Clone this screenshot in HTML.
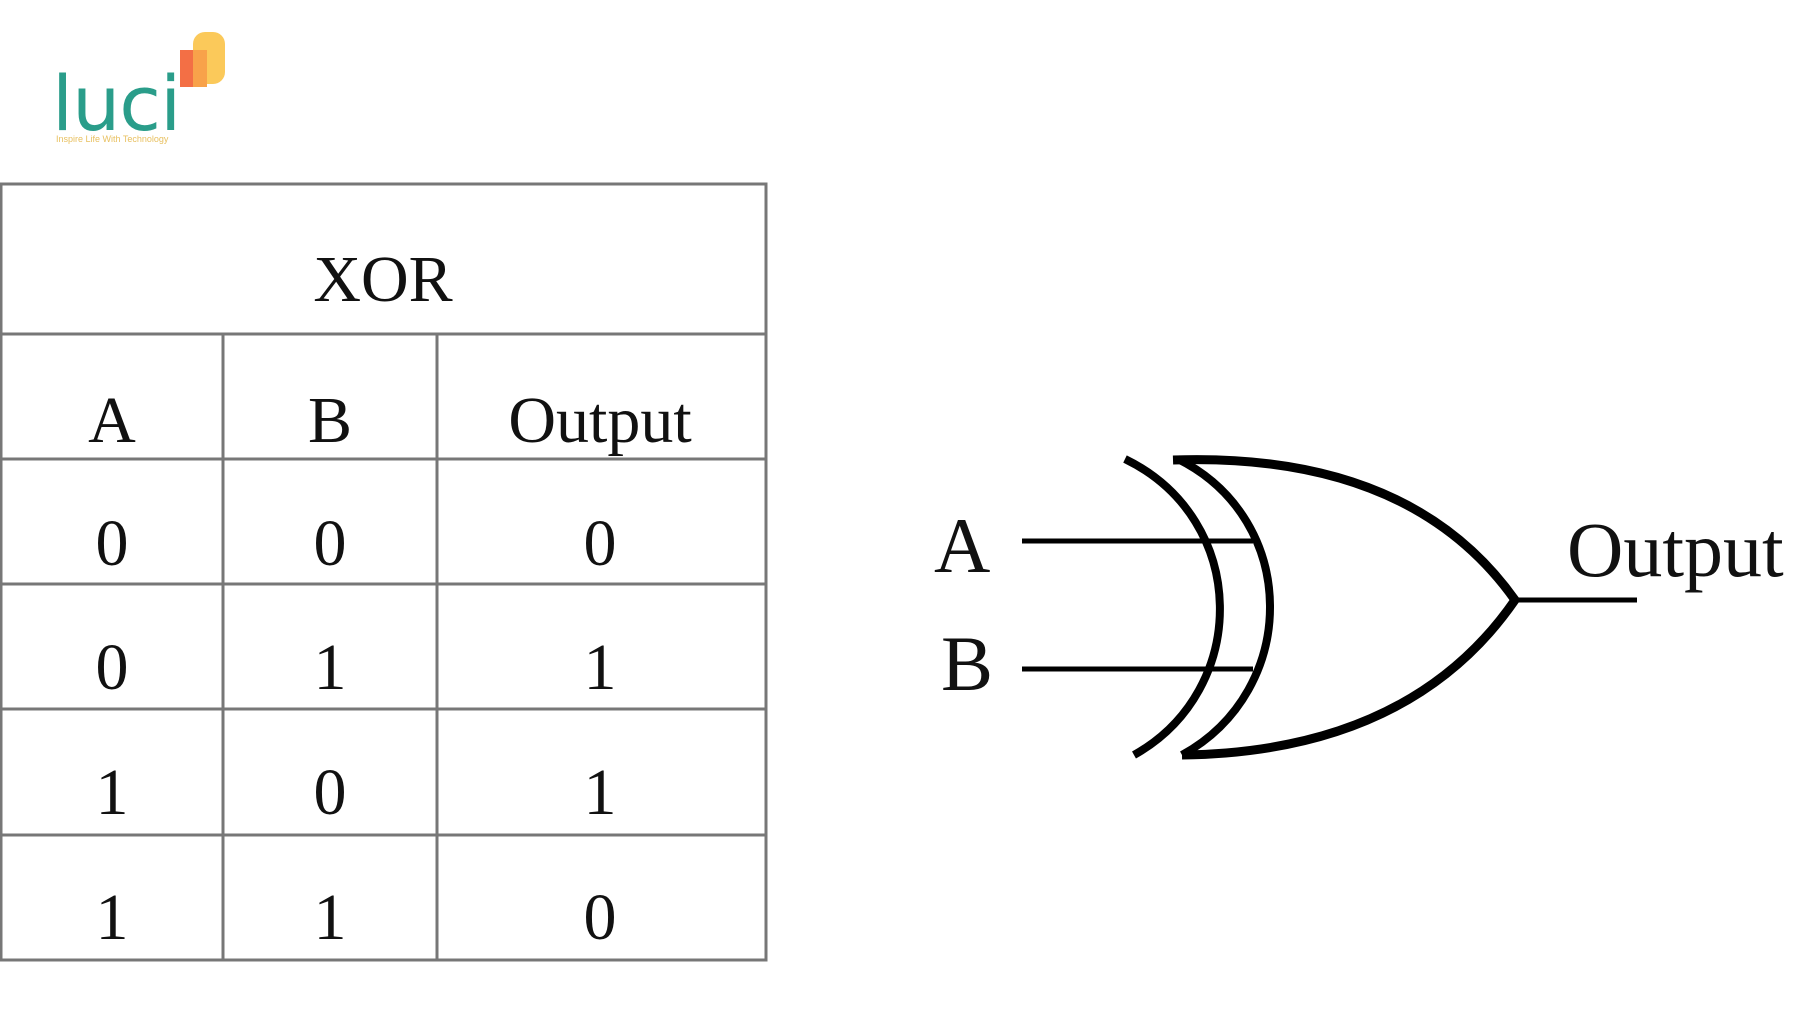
<!DOCTYPE html>
<html><head><meta charset="utf-8"><style>
body{margin:0;background:#fff;width:1800px;height:1013px;overflow:hidden;position:relative;font-family:"Liberation Serif",serif}
svg{position:absolute;left:0;top:0}
</style></head><body>
<svg width="1800" height="1013" viewBox="0 0 1800 1013">
<!-- logo -->
<rect x="193" y="32" width="32" height="52" rx="12" fill="#fbc95a"/>
<rect x="180" y="50" width="27" height="37" fill="#f36f45"/>
<rect x="193" y="50" width="14" height="37" fill="#f8a24a"/>
<text x="52" y="130" font-family="DejaVu Sans,sans-serif" font-size="76" fill="#2a9d8a" letter-spacing="-1">luci</text>
<text x="56" y="142" font-family="Liberation Sans,sans-serif" font-size="9" fill="#e8c060">Inspire Life With Technology</text>
<!-- table -->
<g stroke="#777" stroke-width="3" fill="none">
<rect x="1" y="184" width="765" height="776"/>
<line x1="0" y1="334" x2="766" y2="334"/>
<line x1="0" y1="459" x2="766" y2="459"/>
<line x1="0" y1="584" x2="766" y2="584"/>
<line x1="0" y1="709" x2="766" y2="709"/>
<line x1="0" y1="835" x2="766" y2="835"/>
<line x1="223" y1="334" x2="223" y2="960"/>
<line x1="437" y1="334" x2="437" y2="960"/>
</g>
<g font-size="66" fill="#111" text-anchor="middle">
<text x="383" y="301">XOR</text>
<text x="112" y="442">A</text><text x="330" y="442">B</text><text x="600" y="442">Output</text>
<text x="112" y="565">0</text><text x="330" y="565">0</text><text x="600" y="565">0</text>
<text x="112" y="689">0</text><text x="330" y="689">1</text><text x="600" y="689">1</text>
<text x="112" y="814">1</text><text x="330" y="814">0</text><text x="600" y="814">1</text>
<text x="112" y="939">1</text><text x="330" y="939">1</text><text x="600" y="939">0</text>
</g>
<!-- gate -->
<g stroke="#000" fill="none" stroke-linecap="butt">
<line x1="1022" y1="541" x2="1253" y2="541" stroke-width="5"/>
<line x1="1022" y1="669" x2="1253" y2="669" stroke-width="5"/>
<path d="M1125,459 C1250,520 1250,690 1134,755" stroke-width="8"/>
<path d="M1178,459 C1300,520 1300,690 1182,755" stroke-width="8"/>
<path d="M1173,460 Q1410,452 1515,600 Q1410,752 1182,755" stroke-width="9"/>
<line x1="1515" y1="600" x2="1637" y2="600" stroke-width="5"/>
</g>
<g font-size="78" fill="#111">
<text x="934" y="572">A</text>
<text x="941" y="690">B</text>
<text x="1567" y="576">Output</text>
</g>
</svg>
</body></html>
